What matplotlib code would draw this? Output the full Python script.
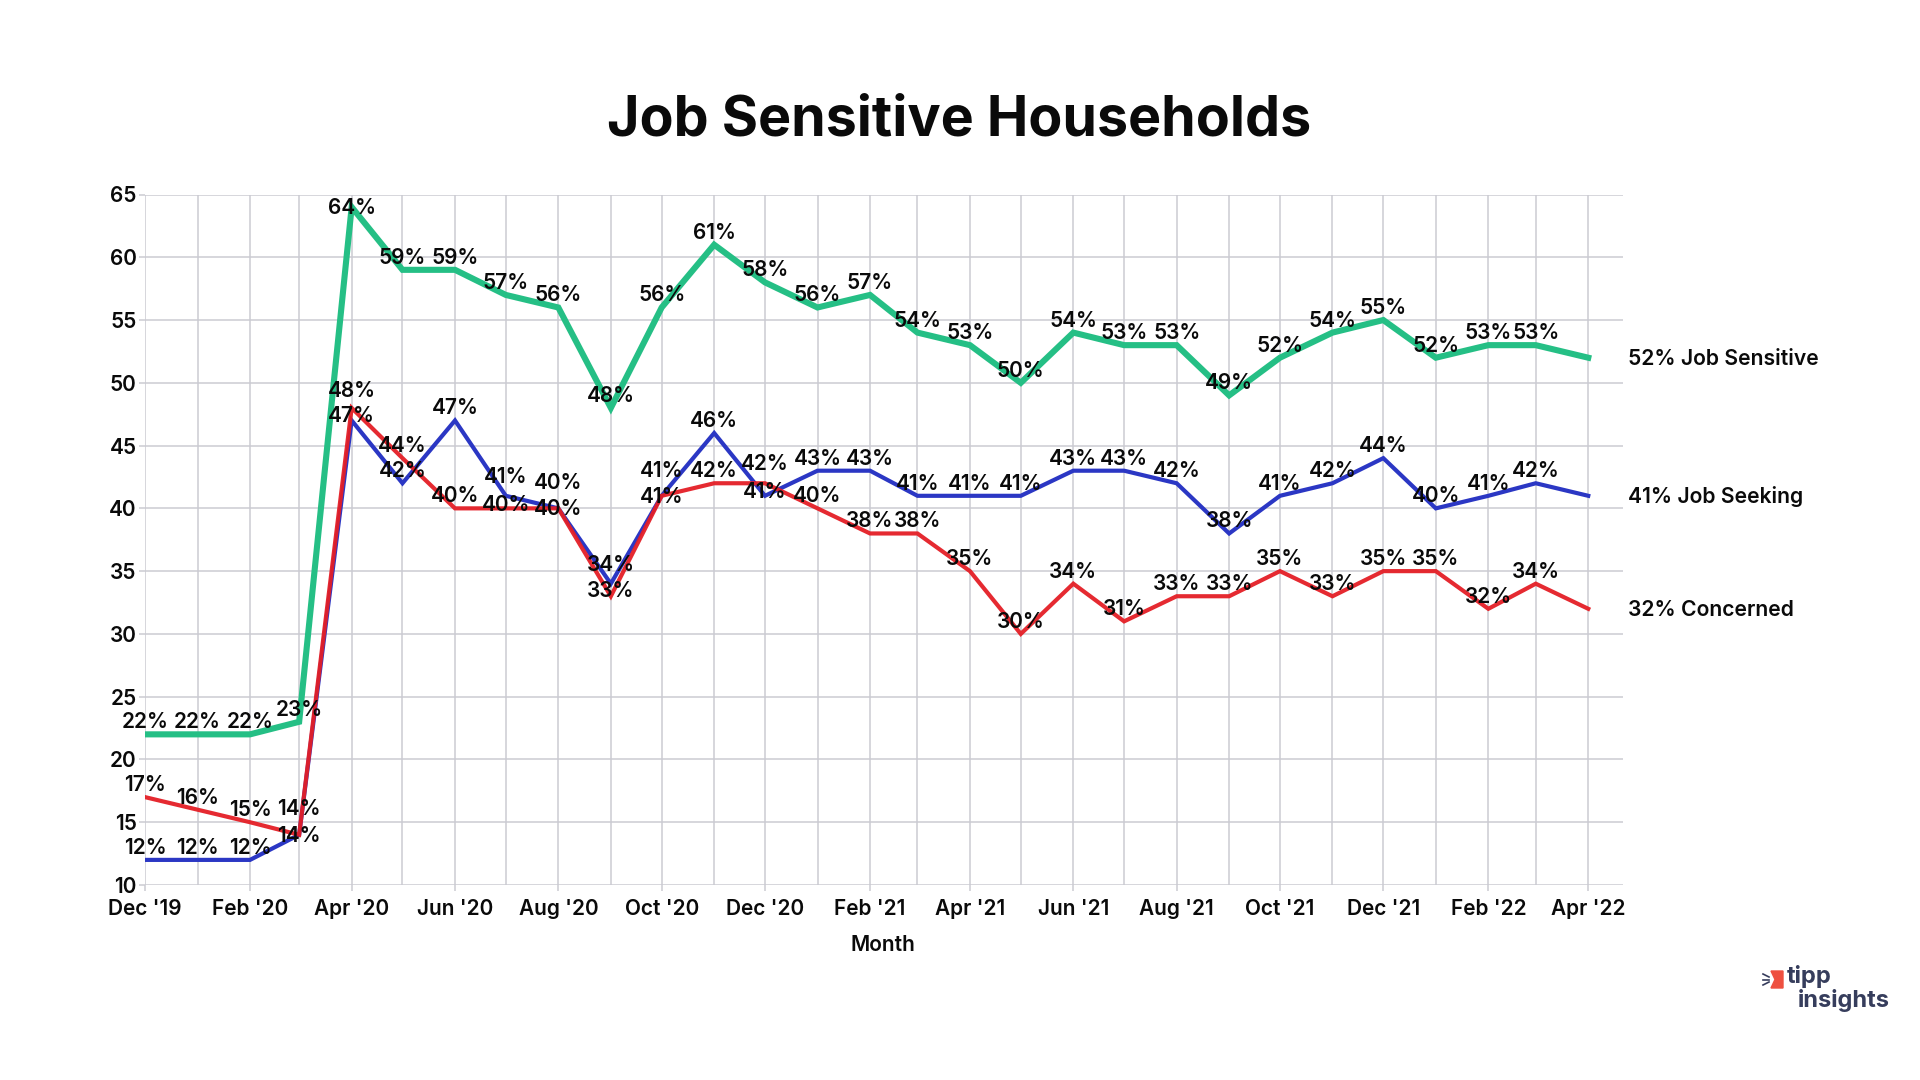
"""Job Sensitive Households line chart, monthly survey readings"""

from datetime import date

import matplotlib.dates as mdates
import matplotlib.pyplot as plt
from matplotlib.patches import Polygon

plt.rcParams["font.family"] = ["Inter", "DejaVu Sans"]

# ------------ DATA ------------

YEARS_MONTHS = [(2019, 12)] + [(2020, m) for m in range(1, 13)] \
    + [(2021, m) for m in range(1, 13)] + [(2022, m) for m in range(1, 5)]

job_sensitive = [22, 22, 22, 23, 64, 59, 59, 57, 56, 48, 56, 61, 58, 56, 57,
                 54, 53, 50, 54, 53, 53, 49, 52, 54, 55, 52, 53, 53, 52]
job_seeking = [12, 12, 12, 14, 47, 42, 47, 41, 40, 34, 41, 46, 41, 43, 43,
               41, 41, 41, 43, 43, 42, 38, 41, 42, 44, 40, 41, 42, 41]
concerned = [17, 16, 15, 14, 48, 44, 40, 40, 40, 33, 41, 42, 42, 40, 38,
             38, 35, 30, 34, 31, 33, 33, 35, 33, 35, 35, 32, 34, 32]

y_ticks = list(range(10, 70, 5))

# ------------ STYLE ------------

GREEN = "#25bf85"
BLUE = "#2b37c4"
RED = "#e41e26"
GRID = "#cbcbd2"
INK = "#0a0a0a"
LOGO_INK = "#363d5c"
LOGO_RED = "#ee5040"

FONT_SIZE = 15
TEXT_WEIGHT = 600
PX = 0.72  # points per pixel at dpi 100

# label height above the point in pixels, where it is not the usual 12
SENSITIVE_LIFT = {4: -1}
SEEKING_LIFT = {3: -1, 4: 4, 7: 19, 8: 25, 9: 19, 10: 25, 12: 4}
CONCERNED_LIFT = {3: 26, 4: 17, 7: 3, 8: -1, 9: 5, 10: -1, 12: 19}


def add_labels(ax, dates, values, lift):
    """Write the percent above each point, the last one is named at the right"""
    for i, (day, value) in enumerate(zip(dates[:-1], values[:-1])):
        ax.annotate(f"{value}%", (day, value),
                    xytext=(0, lift.get(i, 12) * PX), textcoords="offset points",
                    ha="center", va="center", fontsize=FONT_SIZE, color=INK,
                    fontweight=TEXT_WEIGHT, zorder=6)


def add_end_label(ax, day, value, name):
    """Series name to the right of the last point"""
    ax.annotate(f"{value}% {name}", (day, value), xytext=(40 * PX, -1 * PX),
                textcoords="offset points", ha="left", va="center",
                fontsize=FONT_SIZE + 0.2, color=INK, fontweight=TEXT_WEIGHT,
                annotation_clip=False)


def add_logo(fig):
    """Small tipp insights mark in the bottom right corner"""
    w, h = fig.get_size_inches() * fig.dpi
    flag = [(1771, 971), (1783, 971), (1783, 988), (1771, 988), (1775, 979.5)]
    fig.add_artist(Polygon([(x / w, 1 - y / h) for x, y in flag],
                           closed=True, color=LOGO_RED,
                           transform=fig.transFigure))
    for y0, y1 in [(974, 977), (979.5, 979.5), (985, 982)]:
        fig.add_artist(plt.Line2D([1763 / w, 1769 / w], [1 - y0 / h, 1 - y1 / h],
                                  color=LOGO_INK, lw=1.2))
    fig.text(1787 / w, 1 - 977 / h, "tipp", fontsize=17, fontweight="bold",
             color=LOGO_INK, ha="left", va="center")
    fig.text(1798 / w, 1 - 1001 / h, "insights", fontsize=17, fontweight="bold",
             color=LOGO_INK, ha="left", va="center")


if __name__ == "__main__":
    dates = [date(y, m, 1) for y, m in YEARS_MONTHS]

    fig = plt.figure(figsize=(19.2, 10.8), dpi=100)
    ax = fig.add_axes([145 / 1920, 1 - 885 / 1080, (1623 - 145) / 1920, (885 - 194.5) / 1080])

    ax.plot(dates, job_sensitive, color=GREEN, lw=4.4, solid_joinstyle="miter", zorder=3)
    ax.plot(dates, job_seeking, color=BLUE, lw=3, solid_joinstyle="miter", zorder=4)
    ax.plot(dates, concerned, color=RED, lw=3, alpha=0.95, solid_joinstyle="miter", zorder=5)

    add_labels(ax, dates, job_sensitive, SENSITIVE_LIFT)
    add_labels(ax, dates, job_seeking, SEEKING_LIFT)
    add_labels(ax, dates, concerned, CONCERNED_LIFT)

    add_end_label(ax, dates[-1], job_sensitive[-1], "Job Sensitive")
    add_end_label(ax, dates[-1], job_seeking[-1], "Job Seeking")
    add_end_label(ax, dates[-1], concerned[-1], "Concerned")

    start = mdates.date2num(dates[0])
    ax.set_xlim(start, start + 872.5)
    ax.set_ylim(10, 65)
    ax.set_yticks(y_ticks)

    ax.xaxis.set_major_locator(mdates.MonthLocator(bymonth=[2, 4, 6, 8, 10, 12]))
    ax.xaxis.set_major_formatter(mdates.DateFormatter("%b '%y"))
    ax.xaxis.set_minor_locator(mdates.MonthLocator())

    ax.grid(True, which="major", color=GRID, lw=1.1)
    ax.grid(True, which="minor", axis="x", color=GRID, lw=1.1)
    ax.tick_params(axis="y", which="major", length=4, width=1.1, color=GRID,
                   labelsize=FONT_SIZE, labelcolor=INK, pad=2)
    ax.tick_params(axis="x", which="major", length=4, width=1.1, color=GRID,
                   labelsize=FONT_SIZE, labelcolor=INK, pad=6)
    ax.tick_params(axis="x", which="minor", length=0)
    for tick_label in ax.get_xticklabels() + ax.get_yticklabels():
        tick_label.set_fontweight(TEXT_WEIGHT)
    for spine in ax.spines.values():
        spine.set_visible(False)
    ax.set_axisbelow(True)

    fig.text(883 / 1920, 1 - 945 / 1080, "Month", ha="center", va="center",
             fontsize=FONT_SIZE, fontweight=TEXT_WEIGHT, color=INK)
    fig.text(959 / 1920, 1 - 121 / 1080, "Job Sensitive Households", ha="center",
             va="center", fontsize=40, fontweight="bold", color=INK)

    add_logo(fig)

    fig.savefig("out.png", dpi=100, facecolor="white")
